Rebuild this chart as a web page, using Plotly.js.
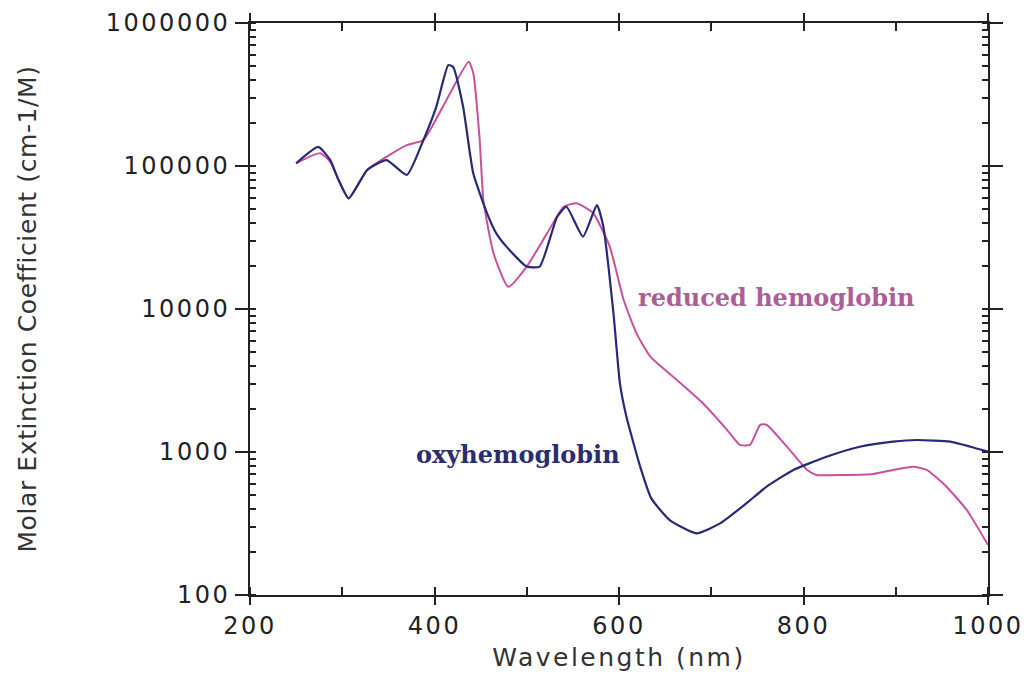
<!DOCTYPE html>
<html><head><meta charset="utf-8">
<script src="https://cdn.plot.ly/plotly-3.0.1.min.js"></script>
<style>
html,body{margin:0;padding:0;background:#fff;}
#chart{width:1028px;height:680px;}
.xtick text,.ytick text{letter-spacing:2.5px;}
.g-xtitle text{letter-spacing:2.5px;}
.g-ytitle text{letter-spacing:0.6px;}
</style></head><body><div id="chart"></div>
<script>
// Oxyhemoglobin: wavelength (nm) and molar extinction coefficient (cm-1/M)
var oxyWl  = [250,274,287,296,307,327,348,370,388,402,415,420,431,442,457,467,478,500,514,533,543,561,576,583,594,601,608,623,635,655,684,710,738,760,789,825,861,897,923,959,981,1000];
var oxyEps = [104500,136000,110000,79800,59400,93800,110000,86500,152000,260000,508000,494000,260000,89000,46700,33800,27300,19800,19800,44200,51900,32100,53300,37700,9330,3020,1770,789,474,334,270,318,437,572,748,927,1089,1181,1213,1181,1089,1005];

// Reduced hemoglobin
var redWl  = [250,276,287,296,307,327,348,370,388,413,437,442,449,453,464,480,500,522,540,554,572,590,605,619,634,663,691,717,731,742,753,760,782,804,814,843,876,897,919,934,955,977,1000];
var redEps = [104500,123000,107000,79800,59400,93800,116000,140000,152000,290000,536000,447000,152000,57800,24500,14300,19800,33800,51900,54800,46700,27300,11600,6760,4650,3180,2190,1430,1120,1120,1550,1550,1090,748,691,691,702,748,789,748,572,393,224];

// Curve labels
var labelText = ['reduced hemoglobin', 'oxyhemoglobin'];
var labelWl   = [771, 490];
var labelEps  = [12100, 955];

var blue = '#28297a';
var pink = '#c9519c';
var axisCol = '#222222';
var tickFont = {family:'DejaVu Sans, sans-serif', size:24, color:'#222'};
var titleFont = {family:'DejaVu Sans, sans-serif', size:25, color:'#333'};

var traces = [
  {x: redWl, y: redEps, type:'scatter', mode:'lines', name:'reduced hemoglobin',
   line:{color:pink, width:2, shape:'spline', smoothing:0.5}},
  {x: oxyWl, y: oxyEps, type:'scatter', mode:'lines', name:'oxyhemoglobin',
   line:{color:blue, width:2.2, shape:'spline', smoothing:0.5}}
];

var layout = {
  width:1028, height:680,
  margin:{l:250, r:40, t:23, b:85},
  paper_bgcolor:'#fff', plot_bgcolor:'#fff',
  showlegend:false,
  xaxis:{
    range:[200,1000], tick0:0, dtick:200,
    ticks:'outside', ticklen:8, tickwidth:2, tickcolor:axisCol,
    minor:{dtick:100, ticks:'inside', ticklen:8, tickwidth:2, tickcolor:axisCol, showgrid:false},
    showline:true, linewidth:2, linecolor:axisCol, mirror:'allticks',
    showgrid:false, zeroline:false, tickfont:tickFont,
    title:{text:'Wavelength (nm)', font:titleFont, standoff:10}
  },
  yaxis:{
    type:'log', range:[2,6], dtick:1, tickformat:'d',
    ticks:'outside', ticklen:13, tickwidth:2, tickcolor:axisCol,
    minor:{dtick:'D1', ticks:'inside', ticklen:6, tickwidth:2, tickcolor:axisCol, showgrid:false},
    showline:true, linewidth:2, linecolor:axisCol, mirror:'allticks',
    showgrid:false, zeroline:false, tickfont:tickFont,
    title:{text:'Molar Extinction Coefficient (cm-1/M)', font:titleFont, standoff:62}
  },
  annotations: labelText.map(function(t,i){
    return {x: labelWl[i], y: Math.log10(labelEps[i]), xref:'x', yref:'y',
      text:'<b>'+t+'</b>', showarrow:false,
      font:{family:'DejaVu Serif, serif', size:24, color: i===0 ? '#ab5f96' : '#2c2c70'}};
  })
};

Plotly.newPlot('chart', traces, layout, {displayModeBar:false, staticPlot:true});
</script></body></html>
